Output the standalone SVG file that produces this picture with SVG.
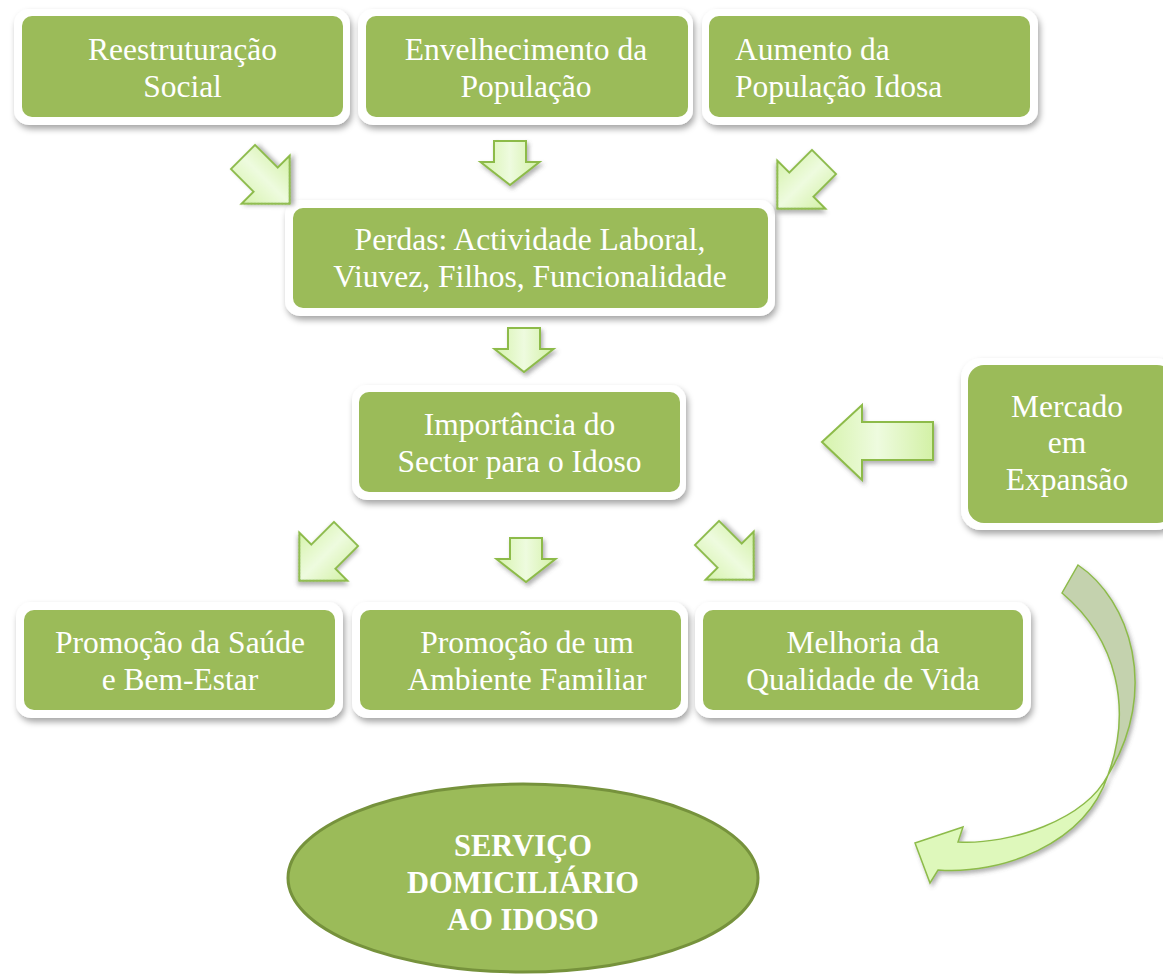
<svg xmlns="http://www.w3.org/2000/svg" width="1163" height="974" viewBox="0 0 1163 974">
<defs>
<filter id="sh" x="-10%" y="-10%" width="125%" height="130%">
<feDropShadow dx="2" dy="4" stdDeviation="3" flood-color="#000" flood-opacity="0.35"/>
</filter>
<filter id="ash" x="-20%" y="-20%" width="150%" height="150%">
<feDropShadow dx="2" dy="3" stdDeviation="2" flood-color="#555" flood-opacity="0.45"/>
</filter>
<linearGradient id="ag" x1="0" y1="0" x2="1" y2="0">
<stop offset="0" stop-color="#d6f3ac"/>
<stop offset="0.5" stop-color="#eefbdf"/>
<stop offset="1" stop-color="#d3f1a6"/>
</linearGradient>
<path id="diag" d="M-17,0 L17,0 L17,32 L34,32 L0,66 L-34,32 L-17,32 Z"/>
<path id="down" d="M-16,0 L16,0 L16,21 L29.5,21 L0,44 L-29.5,21 L-16,21 Z"/>
</defs>
<style>
.frame{fill:#ffffff;filter:url(#sh)}
.box{fill:#9bbb59}
.t{font-family:"Liberation Serif","Times New Roman",serif;font-size:31.5px;fill:#ffffff;text-anchor:middle}
.tl{text-anchor:start}
.tb{font-family:"Liberation Serif","Times New Roman",serif;font-size:30.5px;font-weight:bold;fill:#ffffff;text-anchor:middle}
.arr{fill:url(#ag);stroke:#8dbb4a;stroke-width:2;stroke-linejoin:miter;filter:url(#ash)}
</style>
<rect width="1163" height="974" fill="#ffffff"/>

<g id="n1">
<rect class="frame" x="14" y="9" width="336" height="116" rx="15"/>
<rect class="box" x="22" y="16" width="321" height="101" rx="10"/>
<text class="t" x="182.5" y="60">Reestruturação</text>
<text class="t" x="182.5" y="97">Social</text>
</g>
<g id="n2">
<rect class="frame" x="358" y="9" width="335" height="116" rx="15"/>
<rect class="box" x="366" y="16" width="322" height="101" rx="10"/>
<text class="t" x="526" y="60">Envelhecimento da</text>
<text class="t" x="526" y="97">População</text>
</g>
<g id="n3">
<rect class="frame" x="702" y="9" width="336" height="116" rx="15"/>
<rect class="box" x="709" y="16" width="321" height="101" rx="10"/>
<text class="t tl" x="735" y="60">Aumento da</text>
<text class="t tl" x="735" y="97">População Idosa</text>
</g>
<g id="n4">
<rect class="frame" x="285" y="200" width="490" height="116" rx="15"/>
<rect class="box" x="293" y="208" width="475" height="100" rx="10"/>
<text class="t" x="530" y="250">Perdas: Actividade Laboral,</text>
<text class="t" x="530" y="287">Viuvez, Filhos, Funcionalidade</text>
</g>
<g id="n5">
<rect class="frame" x="352" y="385" width="334" height="115" rx="15"/>
<rect class="box" x="359" y="392" width="321" height="100" rx="10"/>
<text class="t" x="519.5" y="435">Importância do</text>
<text class="t" x="519.5" y="472">Sector para o Idoso</text>
</g>
<g id="n6">
<rect class="frame" x="961" y="358" width="215" height="172" rx="20"/>
<rect class="box" x="968" y="365" width="205" height="158" rx="16"/>
<text class="t" x="1067" y="417">Mercado</text>
<text class="t" x="1067" y="453">em</text>
<text class="t" x="1067" y="490">Expansão</text>
</g>
<g id="n7">
<rect class="frame" x="16" y="602" width="327" height="116" rx="15"/>
<rect class="box" x="24" y="610" width="311" height="100" rx="10"/>
<text class="t" x="180" y="653">Promoção da Saúde</text>
<text class="t" x="180" y="690">e Bem-Estar</text>
</g>
<g id="n8">
<rect class="frame" x="352" y="602" width="336" height="116" rx="15"/>
<rect class="box" x="360" y="610" width="321" height="100" rx="10"/>
<text class="t" x="527" y="653">Promoção de um</text>
<text class="t" x="527" y="690">Ambiente Familiar</text>
</g>
<g id="n9">
<rect class="frame" x="695" y="602" width="336" height="116" rx="15"/>
<rect class="box" x="703" y="610" width="320" height="100" rx="10"/>
<text class="t" x="863" y="653">Melhoria da</text>
<text class="t" x="863" y="690">Qualidade de Vida</text>
</g>
<g id="n10">
<ellipse cx="523" cy="878" rx="235" ry="94" fill="#9bbb59" stroke="#76923c" stroke-width="3"/>
<text class="tb" x="523" y="856">SERVIÇO</text>
<text class="tb" x="523" y="893">DOMICILIÁRIO</text>
<text class="tb" x="523" y="930">AO IDOSO</text>
</g>

<g id="connectors">
<use href="#diag" class="arr" transform="translate(243,157) rotate(-45)"/>
<use href="#down" class="arr" transform="translate(510,141)"/>
<use href="#diag" class="arr" transform="translate(824,162) rotate(45)"/>
<use href="#down" class="arr" transform="translate(524,328)"/>
<path class="arr" d="M822,442 L862,405 L862,422 L933,422 L933,460 L862,460 L862,480 Z"/>
<use href="#diag" class="arr" transform="translate(346,534) rotate(45)"/>
<use href="#down" class="arr" transform="translate(526,538)"/>
<use href="#diag" class="arr" transform="translate(707,533) rotate(-45)"/>
<g filter="url(#ash)">
<path d="M1078,565 C1130,600 1160,690 1108,775 C1132,710 1118,640 1062,593 Z" fill="#c4d2ae" stroke="#8dbb4a" stroke-width="1.5"/>
<path d="M1108,775 C1085,845 1000,875 938,870 L930,883 L915,843 L963,827 L958,842 C1010,845 1085,820 1108,775 Z" fill="#def8bb" stroke="#8dbb4a" stroke-width="1.5"/>
</g>
</g>
</svg>
